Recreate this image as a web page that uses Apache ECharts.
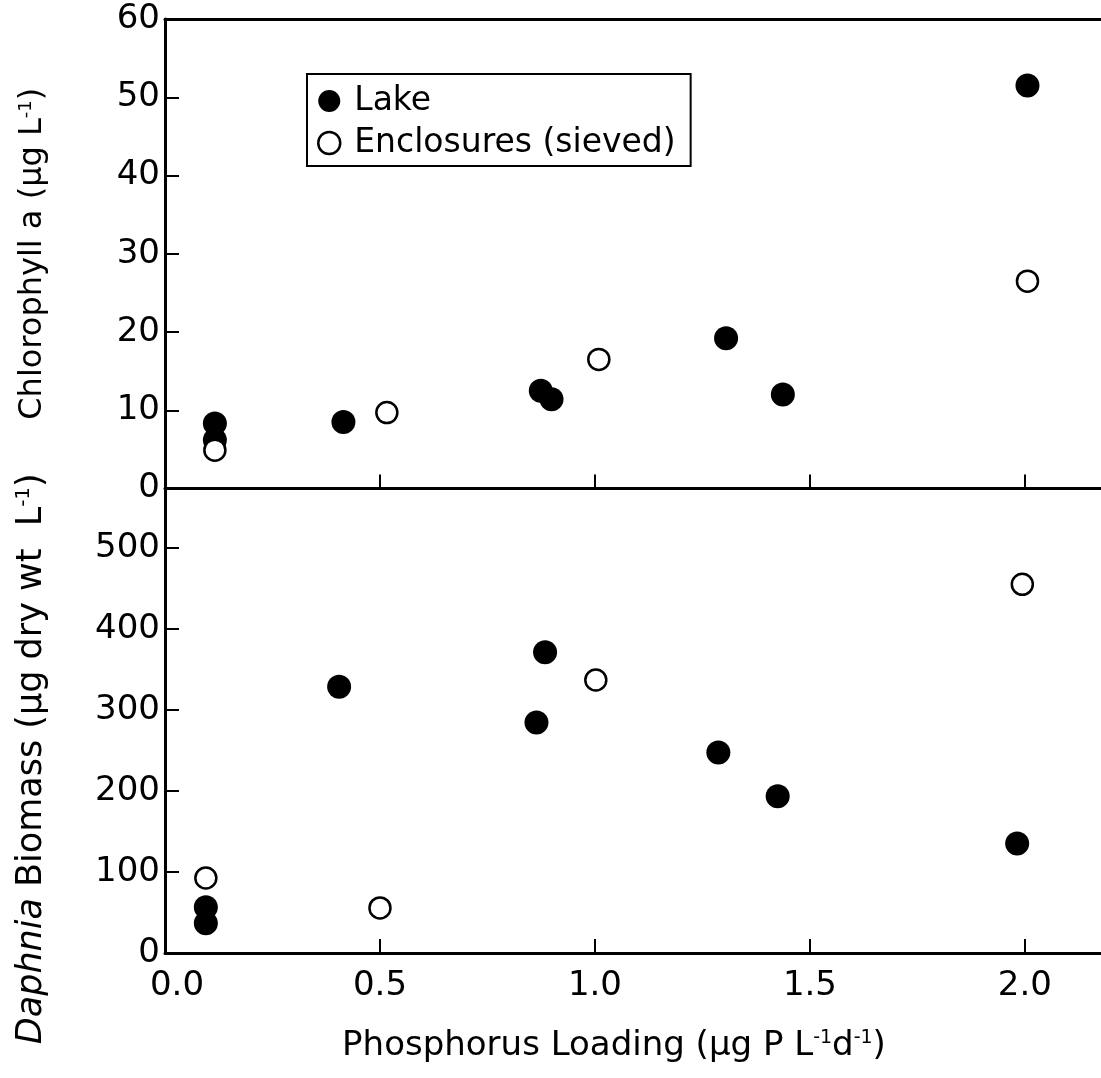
<!DOCTYPE html>
<html><head><meta charset="utf-8">
<script src="https://cdn.jsdelivr.net/npm/echarts@6/dist/echarts.min.js"></script>
<style>html,body{margin:0;padding:0;background:#fff}#c{width:1101px;height:1078px}</style>
</head><body><div id="c"></div>
<script>
// ---- data ----
const seriesNames = ['Lake', 'Enclosures (sieved)'];
// Top panel: Chlorophyll a (µg/L) vs phosphorus loading
const chlLakeX = [0.116, 0.116, 0.415, 0.874, 0.899, 1.305, 1.437, 2.006];
const chlLakeY = [8.3, 6.2, 8.5, 12.5, 11.4, 19.2, 12.0, 51.5];
const chlEncX  = [0.116, 0.516, 1.009, 2.006];
const chlEncY  = [4.9, 9.7, 16.5, 26.5];
// Bottom panel: Daphnia biomass (µg dry wt/L) vs phosphorus loading
const bioLakeX = [0.095, 0.095, 0.405, 0.864, 0.884, 1.287, 1.425, 1.982];
const bioLakeY = [56.5, 36.7, 328.4, 284.4, 370.9, 247.4, 193.5, 135.0];
const bioEncX  = [0.095, 0.500, 1.002, 1.994];
const bioEncY  = [92.6, 55.6, 336.7, 454.8];
// Tick labels
const xTicks   = [0.0, 0.5, 1.0, 1.5, 2.0];
const chlTicks = [0, 10, 20, 30, 40, 50, 60];
const bioTicks = [0, 100, 200, 300, 400, 500];
const xMax = 2.177;   // the frame is cut at the right edge of the picture
const bioMax = 573;

const zip = (xs, ys) => xs.map((x, i) => [x, ys[i]]);
const FONT = 'DejaVu Sans';
const lineStyle = { color: '#000', width: 3 };
const tickLine = { color: '#000', width: 2 };
const labelStyle = { fontFamily: FONT, fontSize: 34, color: '#000' };

const chart = echarts.init(document.getElementById('c'), null, { renderer: 'canvas' });
const filled = { color: '#000', opacity: 1 };
const open = { color: '#fff', borderColor: '#000', borderWidth: 2.5, opacity: 1 };

chart.setOption({
  animation: false,
  backgroundColor: '#fff',
  grid: [
    { left: 165, right: 0, top: 19, height: 469.5, containLabel: false },
    { left: 165, right: 0, top: 488.5, height: 464.5, containLabel: false }
  ],
  legend: {
    left: 307, top: 74, orient: 'vertical',
    borderColor: '#000', borderWidth: 2, padding: [9, 15, 5, 10],
    itemWidth: 40, itemHeight: 22, itemGap: 6,
    selectedMode: false,
    textStyle: { fontFamily: FONT, fontSize: 33, color: '#000', lineHeight: 36 },
    data: [
      { name: seriesNames[0], icon: 'circle', itemStyle: { color: '#000', opacity: 1 } },
      { name: seriesNames[1], icon: 'circle', itemStyle: { color: '#fff', borderColor: '#000', borderWidth: 2.5, opacity: 1 } }
    ]
  },
  xAxis: [
    { type: 'value', gridIndex: 0, min: 0, max: xMax, interval: 0.5,
      axisLine: { show: true, onZero: false, lineStyle },
      axisTick: { show: true, inside: true, length: 14, lineStyle: tickLine, customValues: xTicks },
      axisLabel: { show: false }, splitLine: { show: false } },
    { type: 'value', gridIndex: 1, min: 0, max: xMax, interval: 0.5,
      axisLine: { show: true, onZero: false, lineStyle },
      axisTick: { show: true, inside: true, length: 14, lineStyle: tickLine, customValues: xTicks },
      axisLabel: Object.assign({ margin: 16, customValues: xTicks,
        formatter: v => (v === 0 ? '{f|' + v.toFixed(1) + '}' : v.toFixed(1)),
        rich: { f: { fontFamily: FONT, fontSize: 34, color: '#000', padding: [0, 0, 0, 24] } } }, labelStyle),
      splitLine: { show: false },
      name: '{t|Phosphorus Loading (µg P L}{s|-1}{t|d}{s|-1}{t|)}',
      nameLocation: 'middle', nameGap: 76,
      nameTextStyle: { fontFamily: FONT, fontSize: 34, color: '#000', padding: [0, 38, 0, 0],
        rich: { t: { fontFamily: FONT, fontSize: 34, color: '#000' },
                s: { fontFamily: FONT, fontSize: 19, color: '#000', verticalAlign: 'top' } } } },
    { type: 'value', gridIndex: 0, position: 'top', min: 0, max: xMax,
      axisLine: { show: true, onZero: false, lineStyle },
      axisTick: { show: false }, axisLabel: { show: false }, splitLine: { show: false } }
  ],
  yAxis: [
    { type: 'value', gridIndex: 0, min: chlTicks[0], max: chlTicks[chlTicks.length - 1], interval: 10,
      axisLine: { show: true, onZero: false, lineStyle },
      axisTick: { show: true, inside: true, length: 14, lineStyle: tickLine },
      axisLabel: Object.assign({ margin: 5 }, labelStyle), splitLine: { show: false },
      name: '{t|Chlorophyll a (µg L}{s|-1}{t|)}',
      nameLocation: 'middle', nameRotate: 90, nameGap: 116,
      nameTextStyle: { fontFamily: FONT, fontSize: 32, color: '#000',
        rich: { t: { fontFamily: FONT, fontSize: 32, color: '#000' },
                s: { fontFamily: FONT, fontSize: 18, color: '#000', verticalAlign: 'top' } } } },
    { type: 'value', gridIndex: 1, min: 0, max: bioMax, interval: 100,
      axisLine: { show: true, onZero: false, lineStyle },
      axisTick: { show: true, inside: true, length: 14, lineStyle: tickLine, customValues: bioTicks },
      axisLabel: Object.assign({ margin: 5, customValues: bioTicks,
        formatter: v => String(v) }, labelStyle),
      splitLine: { show: false },
      name: '{i|Daphnia}{t| Biomass (µg dry wt  L}{s|-1}{t|)}',
      nameLocation: 'middle', nameRotate: 90, nameGap: 116,
      nameTextStyle: { fontFamily: FONT, fontSize: 35, color: '#000', padding: [0, 76, 0, 0],
        rich: { i: { fontFamily: FONT, fontSize: 35, color: '#000', fontStyle: 'italic' },
                t: { fontFamily: FONT, fontSize: 35, color: '#000' },
                s: { fontFamily: FONT, fontSize: 20, color: '#000', verticalAlign: 'top' } } } }
  ],
  series: [
    { name: seriesNames[0], type: 'scatter', xAxisIndex: 0, yAxisIndex: 0, symbol: 'circle', symbolSize: 24,
      itemStyle: filled, data: zip(chlLakeX, chlLakeY), z: 2 },
    { name: seriesNames[1], type: 'scatter', xAxisIndex: 0, yAxisIndex: 0, symbol: 'circle', symbolSize: 21,
      itemStyle: open, data: zip(chlEncX, chlEncY), z: 3 },
    { name: seriesNames[0], type: 'scatter', xAxisIndex: 1, yAxisIndex: 1, symbol: 'circle', symbolSize: 24,
      itemStyle: filled, data: zip(bioLakeX, bioLakeY), z: 2 },
    { name: seriesNames[1], type: 'scatter', xAxisIndex: 1, yAxisIndex: 1, symbol: 'circle', symbolSize: 21,
      itemStyle: open, data: zip(bioEncX, bioEncY), z: 3 }
  ]
});
</script>
</body></html>
